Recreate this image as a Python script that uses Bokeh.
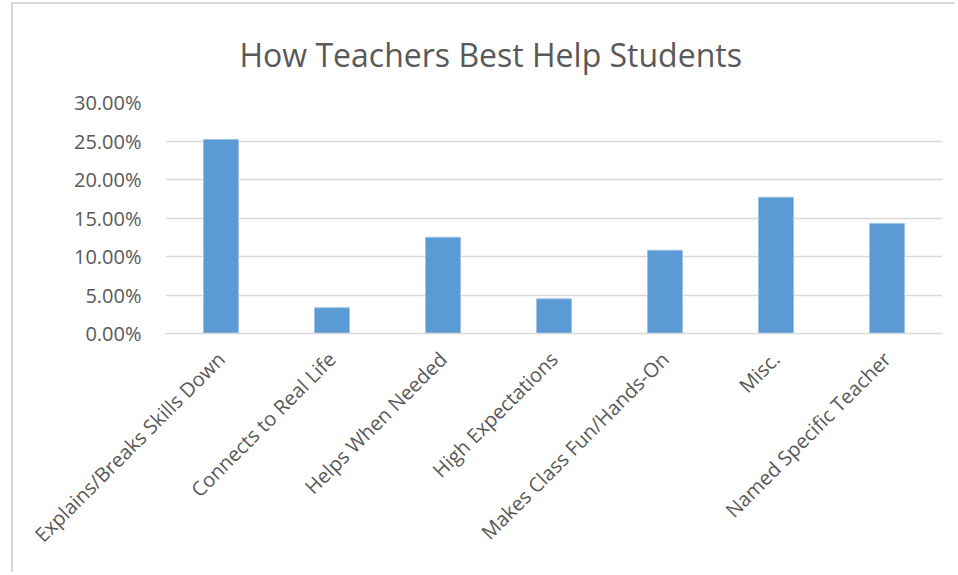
import math
from bokeh.plotting import figure
from bokeh.models import FactorRange, Range1d, NumeralTickFormatter, FixedTicker, Title
from bokeh.embed import file_html
from bokeh.resources import INLINE

categories = [
    "Explains/Breaks Skills Down",
    "Connects to Real Life",
    "Helps When Needed",
    "High Expectations",
    "Makes Class Fun/Hands-On",
    "Misc.",
    "Named Specific Teacher",
]
values = [0.252, 0.0335, 0.125, 0.045, 0.108, 0.177, 0.143]
y_ticks = [0.0, 0.05, 0.10, 0.15, 0.20, 0.25, 0.30]
title_text = "How Teachers Best Help Students"

FONT = "Open Sans"
TXT = "#595959"
GRID = "#D9D9D9"

p = figure(
    width=944, height=570,
    x_range=FactorRange(*categories, range_padding=0),
    y_range=Range1d(0, 0.30),
    output_backend="svg", toolbar_location=None,
    min_border_left=152, min_border_right=15, min_border_top=98, min_border_bottom=241,
)
p.styles = {"border-left": "2px solid #D9D9D9", "border-top": "2px solid #D9D9D9",
            "margin-left": "11px", "margin-top": "2px"}
p.outline_line_color = None

p.vbar(x=categories, top=values, width=0.315, fill_color="#5B9BD5", line_color="#9DC3E6", line_width=1)

t = Title(text=title_text, align="left", offset=74, standoff=50,
          vertical_align="top", text_line_height=1.0,
          text_font=FONT, text_font_size="32px", text_font_style="normal", text_color=TXT)
p.add_layout(t, "above")

p.yaxis.ticker = FixedTicker(ticks=y_ticks)
p.yaxis.formatter = NumeralTickFormatter(format="0.00%")
p.yaxis.axis_line_color = None
p.yaxis.major_tick_line_color = None
p.yaxis.minor_tick_line_color = None
p.yaxis.major_tick_out = 0
p.yaxis.major_tick_in = 0
p.yaxis.major_label_standoff = 24
p.yaxis.major_label_text_font = FONT
p.yaxis.major_label_text_font_size = "20px"
p.yaxis.major_label_text_color = TXT

p.xaxis.axis_line_color = GRID
p.xaxis.axis_line_width = 1.5
p.xaxis.major_tick_line_color = None
p.xaxis.minor_tick_line_color = None
p.xaxis.major_tick_out = 0
p.xaxis.major_tick_in = 0
p.xaxis.major_label_orientation = math.pi / 4
p.xaxis.major_label_standoff = 22
p.xaxis.major_label_text_font = FONT
p.xaxis.major_label_text_font_size = "20px"
p.xaxis.major_label_text_color = TXT

p.xgrid.grid_line_color = None
p.ygrid.grid_line_color = GRID
p.ygrid.grid_line_width = 1.3

open("out.html", "w").write(file_html(p, INLINE))
